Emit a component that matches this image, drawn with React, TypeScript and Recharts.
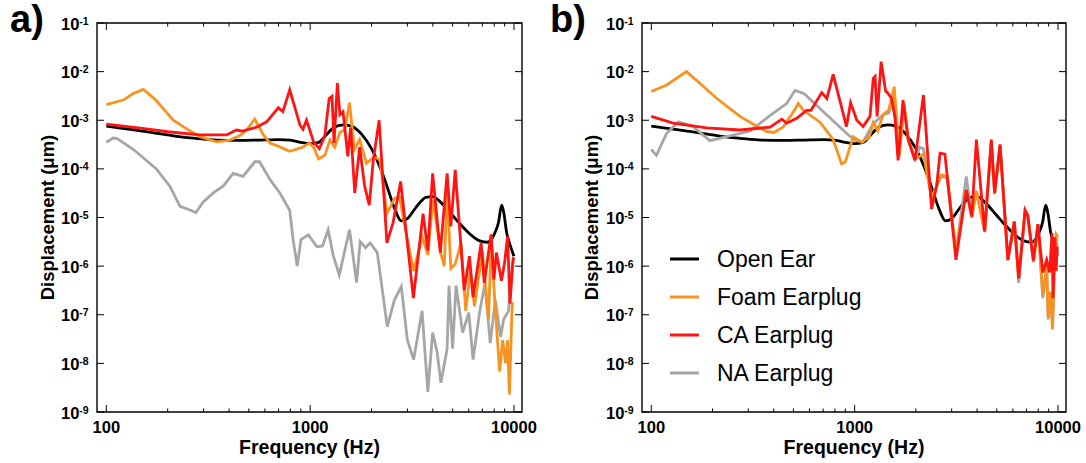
import React from "react";
import { LineChart, Line, XAxis, YAxis, ReferenceArea, Legend } from "recharts";

const FONT = '"Liberation Sans", Arial, Helvetica, sans-serif';

// axes
const majorHz = [100, 1000, 10000];
const minorHz = [200, 300, 400, 500, 600, 700, 800, 900, 2000, 3000, 4000, 5000, 6000, 7000, 8000, 9000];
const decades = [1e-9, 1e-8, 1e-7, 1e-6, 1e-5, 1e-4, 1e-3, 1e-2, 1e-1];
const xDomain = [90, 10950];
const yDomain = [1e-9, 1e-1];
const legendOrder = ["Open Ear", "Foam Earplug", "CA Earplug", "NA Earplug"];

// Open Ear (same in both panels)
const openEarHz = [100, 120, 150, 200, 250, 300, 350, 450, 550, 700, 800, 900, 1000, 1100, 1200, 1300, 1450, 1600, 1800, 2000, 2200, 2400, 2600, 2800, 3000, 3300, 3700, 4000, 4400, 5000, 5500, 6000, 6800, 7400, 8000, 8400, 8700, 8900, 9200, 9600, 10000];
const openEarUm = [7.6e-4, 6.8e-4, 6.0e-4, 5.0e-4, 4.4e-4, 4.1e-4, 3.9e-4, 3.85e-4, 3.9e-4, 4.0e-4, 3.9e-4, 3.5e-4, 3.3e-4, 3.5e-4, 5.0e-4, 7.0e-4, 8.0e-4, 7.5e-4, 5.0e-4, 2.6e-4, 1.1e-4, 4.0e-5, 1.5e-5, 8.5e-6, 9.5e-6, 1.6e-5, 2.6e-5, 2.7e-5, 2.0e-5, 1.1e-5, 7.0e-6, 4.8e-6, 3.3e-6, 3.1e-6, 4.5e-6, 8.0e-6, 1.8e-5, 1.3e-5, 5.0e-6, 2.6e-6, 1.6e-6];

// panel a
const foamAHz = [100, 121, 135, 152, 175, 213, 250, 288, 347, 404, 450, 488, 535, 555, 590, 636, 700, 795, 922, 990, 1040, 1100, 1180, 1250, 1320, 1400, 1480, 1560, 1650, 1750, 1890, 2000, 2113, 2200, 2380, 2600, 2750, 2950, 3220, 3550, 3780, 4000, 4380, 4550, 4700, 4900, 5150, 5500, 5800, 6100, 6400, 7000, 7500, 7750, 8000, 8500, 8800, 9100, 9300, 9500, 9800, 10000];
const foamAUm = [2.1e-3, 2.6e-3, 3.5e-3, 4.3e-3, 2.6e-3, 1.0e-3, 6.5e-4, 4.6e-4, 3.6e-4, 3.9e-4, 4.8e-4, 6.3e-4, 1.06e-3, 8.0e-4, 5.0e-4, 3.4e-4, 2.9e-4, 2.3e-4, 2.8e-4, 3.4e-4, 2.8e-4, 1.6e-4, 1.9e-4, 3.9e-4, 2.8e-4, 5.6e-4, 6.5e-4, 2.3e-3, 2.5e-4, 4.0e-4, 1.3e-4, 1.6e-4, 1.7e-4, 1.5e-4, 1.2e-5, 2.5e-5, 2.6e-5, 5.0e-6, 8.0e-7, 4.0e-6, 1.7e-6, 2.3e-5, 1.8e-6, 1.0e-6, 3.5e-5, 9.0e-7, 1.1e-6, 3.0e-6, 1.2e-7, 8.0e-7, 1.5e-7, 2.0e-6, 8.0e-8, 4.0e-6, 3.0e-7, 6.8e-9, 3.0e-8, 1.0e-8, 3.0e-8, 2.3e-9, 1.7e-7, 1.7e-7];

const caAHz = [100, 150, 200, 288, 389, 435, 466, 546, 612, 698, 735, 794, 891, 922, 960, 1040, 1110, 1180, 1240, 1280, 1310, 1360, 1400, 1450, 1530, 1580, 1655, 1750, 1850, 1950, 2040, 2180, 2380, 2550, 2780, 3210, 3580, 3780, 3990, 4350, 4700, 4900, 5150, 5700, 6050, 6300, 6900, 7150, 7720, 7970, 8200, 8680, 9000, 9300, 9560, 9900, 10000];
const caAUm = [8.3e-4, 6.8e-4, 5.8e-4, 5.0e-4, 5.0e-4, 6.3e-4, 6.0e-4, 7.2e-4, 9.3e-4, 1.8e-3, 1.5e-3, 4.2e-3, 8.0e-4, 6.5e-4, 1.0e-3, 3.6e-4, 2.6e-4, 4.8e-4, 2.8e-3, 3.1e-3, 3.4e-4, 5.8e-3, 1.3e-3, 1.5e-3, 1.8e-4, 7.0e-4, 3.2e-5, 2.8e-4, 4.5e-5, 1.8e-5, 1.5e-4, 1.0e-3, 3.0e-6, 7.7e-6, 5.5e-5, 2.2e-7, 1.2e-5, 2.1e-6, 8.1e-5, 1.9e-6, 8.1e-5, 6.6e-6, 9.5e-5, 3.2e-7, 1.6e-6, 2.3e-7, 3.0e-6, 4.5e-7, 4.5e-6, 5.3e-7, 1.9e-6, 5.0e-7, 1.2e-6, 4.1e-6, 1.7e-7, 1.4e-6, 1.5e-6];

const naAHz = [100, 108, 113, 136, 176, 205, 230, 250, 275, 299, 335, 374, 419, 469, 535, 565, 636, 710, 794, 825, 864, 902, 980, 1080, 1150, 1225, 1300, 1390, 1560, 1690, 1760, 1870, 1970, 2135, 2390, 2590, 2800, 3000, 3220, 3540, 3780, 3990, 4200, 4380, 4700, 4800, 5000, 5200, 5600, 6000, 6300, 6800, 7200, 7650, 8100, 8600, 8900, 9400, 9800, 10000];
const naAUm = [3.5e-4, 4.3e-4, 4.2e-4, 2.5e-4, 1.0e-4, 4.4e-5, 1.7e-5, 1.5e-5, 1.26e-5, 2.1e-5, 3.2e-5, 4.4e-5, 8.1e-5, 7.0e-5, 1.4e-4, 1.4e-4, 6.0e-5, 3.2e-5, 1.4e-5, 3.5e-6, 1.0e-6, 3.5e-6, 4.4e-6, 2.5e-6, 2.6e-6, 5.6e-6, 1.6e-6, 6.6e-7, 5.6e-6, 4.6e-7, 3.2e-6, 2.4e-6, 3.0e-6, 1.9e-6, 5.7e-8, 2.0e-7, 3.8e-7, 3.0e-8, 1.2e-8, 1.2e-7, 2.6e-9, 4.3e-8, 1.7e-8, 4.0e-9, 2.0e-8, 4.0e-7, 2.0e-8, 4.0e-7, 4.3e-8, 1.1e-7, 1.2e-8, 1.2e-7, 4.4e-7, 2.6e-8, 2.0e-7, 3.5e-8, 8.0e-8, 1.2e-7, 1.0e-6, 1.5e-6];

// panel b
const foamBHz = [100, 119, 149, 180, 210, 273, 330, 370, 400, 446, 500, 528, 560, 677, 785, 862, 900, 985, 1080, 1180, 1235, 1300, 1380, 1470, 1565, 1660, 1750, 1835, 1980, 2180, 2390, 2530, 2670, 2850, 3150, 3540, 3770, 3970, 4360, 4700, 4880, 5190, 5670, 6100, 6410, 6890, 7100, 7570, 7970, 8420, 8800, 8950, 9200, 9400, 9600, 9800, 10000];
const foamBUm = [3.9e-3, 5.3e-3, 1.0e-2, 5.0e-3, 2.8e-3, 1.2e-3, 7.5e-4, 5.8e-4, 5.6e-4, 7.3e-4, 1.5e-3, 2.2e-3, 1.6e-3, 9.0e-4, 4.0e-4, 1.26e-4, 1.4e-4, 4.6e-4, 3.5e-4, 4.5e-4, 9.0e-4, 6.0e-4, 1.3e-3, 1.6e-3, 4.9e-3, 1.8e-4, 2.2e-3, 4.0e-4, 1.6e-4, 2.0e-4, 2.5e-5, 4.4e-5, 7.5e-5, 7.0e-5, 2.0e-6, 3.7e-5, 1.0e-5, 3.5e-5, 5.2e-6, 3.5e-4, 3.2e-5, 3.0e-4, 1.35e-6, 8.3e-6, 5.6e-7, 1.4e-5, 1.1e-5, 1.3e-6, 7.3e-6, 2.6e-7, 1.0e-6, 9.0e-8, 3.0e-7, 5.0e-8, 1.0e-6, 4.5e-6, 4.0e-6];

const caBHz = [100, 128, 187, 273, 384, 438, 463, 519, 580, 610, 689, 730, 784, 912, 955, 1025, 1100, 1190, 1235, 1260, 1290, 1350, 1420, 1450, 1520, 1580, 1635, 1730, 1835, 1980, 2180, 2390, 2530, 2630, 2780, 3150, 3540, 3770, 3970, 4360, 4700, 4880, 5190, 5670, 6100, 6410, 6890, 7100, 7570, 7970, 8420, 8800, 9100, 9350, 9450, 9650, 9800, 9900];
const caBUm = [1.2e-3, 8.7e-4, 7.0e-4, 6.3e-4, 7.2e-4, 1.05e-3, 8.7e-4, 1.1e-3, 1.6e-3, 1.6e-3, 3.7e-3, 2.8e-3, 8.8e-3, 7.4e-4, 2.3e-3, 1.0e-3, 7.4e-4, 1.2e-3, 7.3e-3, 8.0e-3, 1.2e-3, 1.6e-2, 4.0e-3, 3.7e-3, 2.8e-3, 1.1e-3, 1.5e-4, 2.6e-3, 4.0e-4, 1.5e-4, 3.3e-3, 1.5e-5, 4.4e-5, 2.1e-4, 2.0e-4, 1.35e-6, 3.7e-5, 1.05e-5, 4.0e-4, 5.2e-6, 4.0e-4, 3.2e-5, 3.2e-4, 1.35e-6, 8.3e-6, 5.6e-7, 1.4e-5, 1.1e-5, 1.3e-6, 7.3e-6, 7.4e-7, 1.35e-6, 7.4e-7, 4.8e-6, 2.2e-7, 3.9e-6, 8.0e-7, 2.5e-6];

const naBHz = [100, 106, 119, 136, 160, 194, 235, 306, 398, 463, 509, 565, 728, 912, 1000, 1100, 1235, 1380, 1470, 1565, 1660, 1750, 1835, 1980, 2090, 2180, 2390, 2530, 2670, 2850, 3150, 3540, 3770, 3970, 4360, 4700, 4880, 5190, 5670, 6100, 6410, 6890, 7100, 7570, 7970, 8420, 8800, 8950, 9200, 9400, 9600, 9800, 10000];
const naBUm = [2.5e-4, 1.9e-4, 5.4e-4, 9.3e-4, 7.5e-4, 3.8e-4, 4.6e-4, 6.0e-4, 1.4e-3, 2.2e-3, 4.1e-3, 3.5e-3, 1.3e-3, 5.4e-4, 3.9e-4, 3.6e-4, 8.5e-4, 1.3e-3, 1.4e-3, 3.5e-3, 2.0e-4, 2.0e-3, 4.0e-4, 1.6e-4, 2.8e-4, 2.6e-4, 2.5e-5, 4.5e-5, 7.0e-5, 6.5e-5, 2.0e-6, 7.0e-5, 1.0e-5, 3.5e-5, 5.0e-6, 3.8e-4, 3.0e-5, 3.0e-4, 1.3e-6, 8.0e-6, 4.5e-7, 1.4e-5, 1.1e-5, 1.2e-6, 7.0e-6, 2.2e-7, 8.0e-7, 8.0e-8, 2.5e-7, 6.0e-8, 1.0e-6, 4.0e-6, 1.6e-6];

const zip = (hz: number[], um: number[]) => hz.map((f, i) => ({ f, v: um[i] }));

const COLORS: Record<string, string> = {
  "Open Ear": "#000000",
  "Foam Earplug": "#f7931e",
  "CA Earplug": "#ff1414",
  "NA Earplug": "#a6a6a6",
};

// drawing order: black, gray, orange, red on top
const seriesA = [
  { name: "Open Ear", data: zip(openEarHz, openEarUm) },
  { name: "NA Earplug", data: zip(naAHz, naAUm) },
  { name: "Foam Earplug", data: zip(foamAHz, foamAUm) },
  { name: "CA Earplug", data: zip(caAHz, caAUm) },
];
const seriesB = [
  { name: "Open Ear", data: zip(openEarHz, openEarUm) },
  { name: "NA Earplug", data: zip(naBHz, naBUm) },
  { name: "Foam Earplug", data: zip(foamBHz, foamBUm) },
  { name: "CA Earplug", data: zip(caBHz, caBUm) },
];

const CHART_W = 543;
const CHART_H = 463;
const PLOT_T = 23;
const PLOT_B = 412;

const LegendBox = ({ payload }: any) => {
  const items = [...(payload || [])].sort(
    (a: any, b: any) => legendOrder.indexOf(a.value) - legendOrder.indexOf(b.value)
  );
  return (
    <svg width={230} height={152} style={{ display: "block" }}>
      {items.map((it: any, i: number) => (
        <g key={it.value} transform={`translate(0, ${19 + i * 38})`}>
          <line x1={0} x2={29} y1={0} y2={0} stroke={COLORS[it.value]} strokeWidth={3} />
          <text x={47} y={8} fontFamily={FONT} fontSize={23} fill="#000">
            {it.value}
          </text>
        </g>
      ))}
    </svg>
  );
};

function Panel({
  letter,
  left,
  axisW,
  rightM,
  series,
  legend,
}: {
  letter: string;
  left: number;
  axisW: number;
  rightM: number;
  series: { name: string; data: { f: number; v: number }[] }[];
  legend?: boolean;
}) {
  const plotL = axisW;
  const plotR = CHART_W - rightM;

  const xTick = (p: any) => {
    const { x, payload } = p;
    const major = majorHz.includes(payload.value);
    const len = major ? 7 : 3.5;
    return (
      <g>
        <line x1={x} x2={x} y1={PLOT_B} y2={PLOT_B - len} stroke="#000" strokeWidth={1} />
        <line x1={x} x2={x} y1={PLOT_T} y2={PLOT_T + len} stroke="#000" strokeWidth={1} />
        {major && (
          <text x={x} y={433} textAnchor="middle" fontFamily={FONT} fontSize={16.5} fontWeight="bold" fill="#000">
            {payload.value}
          </text>
        )}
      </g>
    );
  };

  const yTick = (p: any) => {
    const { y, payload } = p;
    const exp = Math.round(Math.log10(payload.value));
    return (
      <g>
        <line x1={plotL} x2={plotL + 7} y1={y} y2={y} stroke="#000" strokeWidth={1} />
        <line x1={plotR} x2={plotR - 7} y1={y} y2={y} stroke="#000" strokeWidth={1} />
        <text x={plotL - 36} y={y + 6.5} fontFamily={FONT} fontWeight="bold" fill="#000">
          <tspan fontSize={16.5}>10</tspan>
          <tspan fontSize={10.5} dy={-5}>{exp}</tspan>
        </text>
      </g>
    );
  };

  return (
    <div style={{ position: "absolute", left, top: 0, width: CHART_W, height: CHART_H }}>
      <LineChart width={CHART_W} height={CHART_H} margin={{ top: PLOT_T, right: rightM, bottom: 0, left: 0 }}>
        <XAxis
          dataKey="f"
          type="number"
          scale="log"
          domain={xDomain}
          allowDataOverflow
          ticks={[...majorHz, ...minorHz].sort((a, b) => a - b)}
          interval={0}
          tickLine={false}
          axisLine={false}
          height={CHART_H - PLOT_B}
          tick={xTick}
          label={{
            value: "Frequency (Hz)",
            position: "insideBottom",
            offset: 9,
            fontFamily: FONT,
            fontSize: 19.5,
            fontWeight: "bold",
            fill: "#000",
          }}
        />
        <YAxis
          type="number"
          scale="log"
          domain={yDomain}
          allowDataOverflow
          ticks={decades}
          interval={0}
          tickLine={false}
          axisLine={false}
          width={axisW}
          tick={yTick}
          label={{
            value: "Displacement (μm)",
            angle: -90,
            position: "center",
            dx: -1,
            fontFamily: FONT,
            fontSize: 18.5,
            fontWeight: "bold",
            fill: "#000",
          }}
        />
        <ReferenceArea
          x1={xDomain[0]}
          x2={xDomain[1]}
          y1={yDomain[0]}
          y2={yDomain[1]}
          fill="none"
          fillOpacity={0}
          stroke="#000"
          strokeWidth={1.4}
          ifOverflow="visible"
        />
        {series.map((s) => (
          <Line
            key={s.name}
            name={s.name}
            data={s.data}
            dataKey="v"
            type={s.name === "Open Ear" ? "monotone" : "linear"}
            stroke={COLORS[s.name]}
            strokeWidth={2.8}
            dot={false}
            activeDot={false}
            isAnimationActive={false}
          />
        ))}
        {legend && (
          <Legend
            layout="vertical"
            align="center"
            verticalAlign="middle"
            content={<LegendBox />}
            wrapperStyle={{ left: 127, top: 240, width: 230, height: 152 }}
          />
        )}
      </LineChart>
      <div
        style={{
          position: "absolute",
          left: letter === "a)" ? 10 : 7,
          top: 0,
          fontFamily: FONT,
          fontSize: 38,
          lineHeight: "38px",
          fontWeight: "bold",
          color: "#000",
        }}
      >
        {letter}
      </div>
    </div>
  );
}

export default function App() {
  return (
    <div style={{ position: "absolute", left: 0, top: 0, width: 1086, height: 463, background: "#fff" }}>
      <Panel letter="a)" left={0} axisW={97} rightM={21} series={seriesA} />
      <Panel letter="b)" left={543} axisW={99} rightM={20} series={seriesB} legend />
    </div>
  );
}
